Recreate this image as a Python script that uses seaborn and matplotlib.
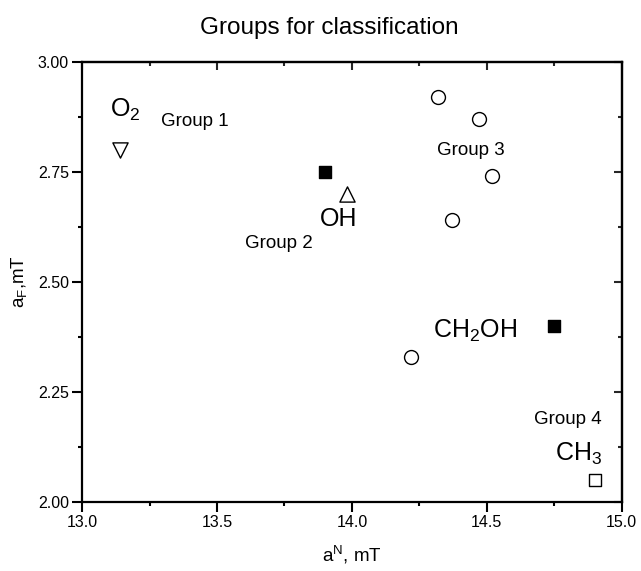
import matplotlib
matplotlib.use("Agg")
import matplotlib.pyplot as plt
import seaborn as sns
import pandas as pd
from matplotlib.ticker import MultipleLocator, FormatStrFormatter

# ---- data ----
tri_down_x = [13.14]
tri_down_y = [2.80]
tri_up_x = [13.98]
tri_up_y = [2.70]
filled_sq_x = [13.90, 14.75]
filled_sq_y = [2.75, 2.40]
circle_x = [14.32, 14.47, 14.52, 14.37, 14.22]
circle_y = [2.92, 2.87, 2.74, 2.64, 2.33]
open_sq_x = [14.90]
open_sq_y = [2.05]

labels = ["O$_2$", "Group 1", "OH", "Group 2", "Group 3", "CH$_2$OH", "Group 4", "CH$_3$"]
label_x = [13.104, 13.293, 13.881, 13.604, 14.315, 14.300, 14.674, 14.752]
label_y = [2.874, 2.854, 2.627, 2.577, 2.788, 2.372, 2.177, 2.093]
label_big = [True, False, True, False, False, True, False, True]

x_ticks = [13.0, 13.5, 14.0, 14.5, 15.0]
y_ticks = [2.00, 2.25, 2.50, 2.75, 3.00]

sns.set_theme(style="white")
plt.rcParams["font.family"] = ["Liberation Sans", "DejaVu Sans"]
plt.rcParams["mathtext.fontset"] = "custom"
plt.rcParams["mathtext.rm"] = "Liberation Sans"
plt.rcParams["mathtext.it"] = "Liberation Sans"
plt.rcParams["mathtext.default"] = "regular"

fig = plt.figure(figsize=(6.41, 5.71), dpi=100)
ax = fig.add_axes([0.128, 0.121, 0.842, 0.771])

def draw(xs, ys, marker, face, size):
    df = pd.DataFrame({"x": xs, "y": ys})
    sns.scatterplot(data=df, x="x", y="y", marker=marker, s=size,
                    facecolor=face, edgecolor="black", linewidth=1.0,
                    ax=ax, legend=False, zorder=3)

draw(tri_down_x, tri_down_y, "v", "white", 120)
draw(tri_up_x, tri_up_y, "^", "white", 120)
draw(filled_sq_x, filled_sq_y, "s", "black", 75)
draw(circle_x, circle_y, "o", "white", 100)
draw(open_sq_x, open_sq_y, "s", "white", 75)

for t, lx, ly, big in zip(labels, label_x, label_y, label_big):
    ax.text(lx, ly, t, fontsize=18 if big else 13.5, ha="left", va="baseline",
            color="black")

ax.set_xlim(13.0, 15.0)
ax.set_ylim(2.0, 3.0)
ax.set_xticks(x_ticks)
ax.set_yticks(y_ticks)
ax.xaxis.set_major_formatter(FormatStrFormatter("%.1f"))
ax.yaxis.set_major_formatter(FormatStrFormatter("%.2f"))
ax.xaxis.set_minor_locator(MultipleLocator(0.25))
ax.yaxis.set_minor_locator(MultipleLocator(0.125))
ax.tick_params(which="major", direction="out", length=7, width=1.5,
               labelsize=11.5, color="black", labelcolor="black", pad=2.5,
               bottom=True, left=True)
ax.tick_params(which="minor", direction="out", length=3, width=1.5,
               color="black", bottom=True, left=True)

for s in ax.spines.values():
    s.set_linewidth(1.6)
    s.set_color("black")

# mirrored inward ticks on top and right
topax = ax.secondary_xaxis("top")
topax.set_xticks(x_ticks)
topax.xaxis.set_minor_locator(MultipleLocator(0.25))
topax.tick_params(which="major", direction="in", length=6, width=1.5, labeltop=False)
topax.tick_params(which="minor", direction="in", length=3, width=1.5)
topax.spines["top"].set_linewidth(1.6)
rax = ax.secondary_yaxis("right")
rax.set_yticks(y_ticks)
rax.yaxis.set_minor_locator(MultipleLocator(0.125))
rax.tick_params(which="major", direction="in", length=6, width=1.5, labelright=False)
rax.tick_params(which="minor", direction="in", length=3, width=1.5)
rax.spines["right"].set_linewidth(1.6)

ax.set_xlabel("a$^N$, mT", fontsize=13.5, labelpad=10, color="black")
ax.set_ylabel("a$_F$,mT", fontsize=13.5, labelpad=6, color="black")
ax.set_title("Groups for classification", fontsize=17.5, pad=20, color="black",
             x=0.459)

fig.savefig("out.png", dpi=100)
